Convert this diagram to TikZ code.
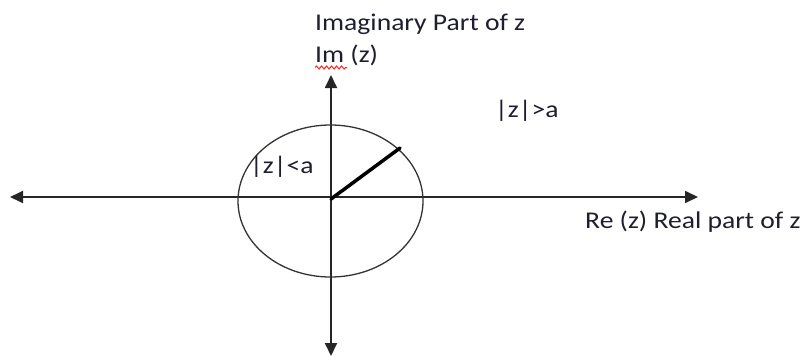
\documentclass[tikz,border=0pt]{standalone}
\usepackage{fontspec}
\setmainfont{Carlito}
\usetikzlibrary{arrows.meta,decorations.pathmorphing}
\definecolor{txt}{RGB}{30,30,50}
\begin{document}
\begin{tikzpicture}[x=1pt,y=-1pt,
  axis/.style={line width=1.8pt,black!85,{Triangle[length=13pt,width=12pt]}-{Triangle[length=13pt,width=12pt]}},
  lbl/.style={inner sep=0pt,anchor=base west,text=txt,font=\fontsize{24}{29}\selectfont,xscale=1.15,transform shape},
  circ/.style={line width=1.3pt,black!80},
  rad/.style={line width=3.5pt,black,line cap=round}]
\useasboundingbox (0,0) rectangle (806,356);
\coordinate (L) at (10,197);
\coordinate (R) at (698,197);
\coordinate (T) at (331,75);
\coordinate (B) at (331,356);
\coordinate (O) at (331,199);
\coordinate (C) at (330.5,201);
\coordinate (P) at (400,148);
\draw[axis] (L) -- (R);
\draw[axis] (B) -- (T);
\draw[circ] (C) ellipse [x radius=92.5, y radius=76];
\draw[rad] (O) -- (P);
\node[lbl] (imag) at (315,30) {Imaginary Part of z};
\node[lbl] (im) at (315,62) {Im (z)};
\draw[red!85,line width=1pt,decorate,decoration={snake,amplitude=1.5pt,segment length=5pt}] ([yshift=-5.5pt]im.base west) -- ++(32,0);
\node[lbl] (gt) at (495,117) {|z|>a};
\node[lbl] (lt) at (250,173) {|z|<a};
\node[lbl] (re) at (585,228) {Re (z) Real part of z};
\end{tikzpicture}
\end{document}
